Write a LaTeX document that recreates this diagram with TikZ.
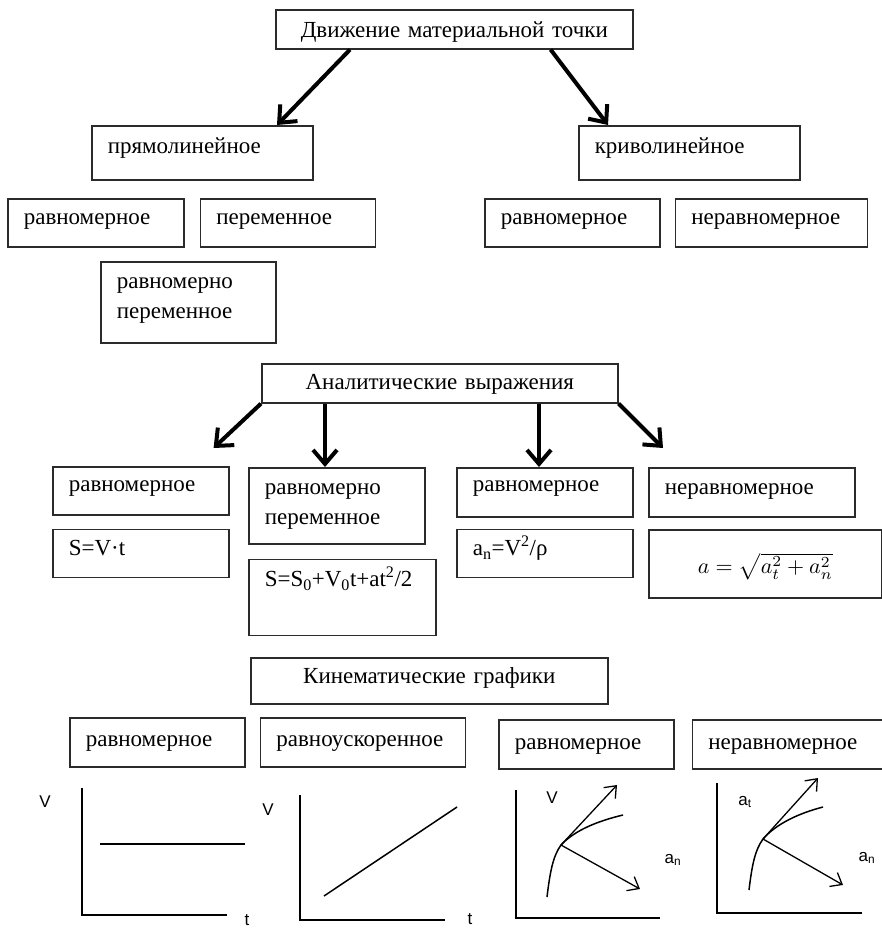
\documentclass[tikz,border=0pt]{standalone}
\usepackage{graphicx}
\usepackage{fontspec}
\setmainfont{Liberation Serif}
\newfontfamily\graphfont{Liberation Sans}
\usetikzlibrary{arrows.meta, positioning, calc}
\definecolor{boxline}{HTML}{2B2B2B}
\tikzset{
	box/.style={draw=boxline, line width=1.6pt, anchor=north west, align=left, inner xsep=16pt, inner ysep=0pt, text height=26pt, text depth=22pt, font=\fontsize{23}{30}\selectfont}, % frames with the text near the top
	headbox/.style={box, align=center}, % the three section titles
	bigarrow/.style={-{Straight Barb[length=14pt,width=24pt]}, line width=4pt}, % thick arrows under the titles
	axes/.style={line width=1.5pt}, % axes and lines of the graphs
	vec/.style={-{Straight Barb[length=10pt,width=16pt]}, line width=1.3pt}, % vectors on the curves
	axislabel/.style={font=\graphfont\fontsize{17}{20}\selectfont, inner sep=0pt},
}

\begin{document}
\begin{tikzpicture}[x=1pt, y=-1pt]
	\useasboundingbox (0,0) rectangle (882,928);
	
	% Движение материальной точки
	\node[headbox, text height=28pt, text depth=11pt, text width=325pt] (motion) at (275,9) {Движение материальной точки};
	\node[box, text height=28pt, text depth=26pt, text width=189pt] (pryam) at (91,125) {прямолинейное};
	\node[box, text height=28pt, text depth=26pt, text width=189pt] (kriv) at (578,125) {криволинейное};
	\node[box, text width=144pt] (ravnA) at (7,198) {равномерное};
	\node[box, text width=143pt, right=15pt of ravnA] (peremA) {переменное};
	\node[box, text height=27pt, text depth=54pt, text width=143pt] (ravnperA) at (100,261) {равномерно\\переменное};
	\node[box, text width=143pt] (ravnB) at (484,198) {равномерное};
	\node[box, text width=160pt, right=14pt of ravnB] (neravB) {неравномерное};
	
	\draw[bigarrow] ($(motion.south west)+(75,0)$) -- ($(pryam.north west)+(186,0)$);
	\draw[bigarrow] ($(motion.south east)+(-83,0)$) -- ($(kriv.north west)+(30,0)$);
	
	% Аналитические выражения
	\node[headbox, text height=26pt, text depth=13pt, text width=324pt] (analit) at (261,363) {Аналитические выражения};
	\node[box, text height=25pt, text depth=23pt, text width=144pt] (ravnC) at (52,466) {равномерное};
	\node[box, text width=144pt, below=13pt of ravnC] (formA) {S=V·t};
	\node[box, text height=27pt, text depth=49pt, text width=144pt] (ravnperC) at (248,467) {равномерно\\переменное};
	\node[box, text height=27pt, text depth=49pt, text width=155pt, below=14pt of ravnperC.south west, anchor=north west] (formB) {S=S\textsubscript{0}+V\textsubscript{0}t+at\textsuperscript{2}/2};
	\node[box, text height=24pt, text depth=25pt, text width=144pt] (ravnD) at (456,467) {равномерное};
	\node[box, text width=144pt, below=11pt of ravnD] (formC) {a\textsubscript{n}=V\textsuperscript{2}/ρ};
	\node[box, text height=27pt, text depth=22pt, text width=174pt] (neravD) at (648,467) {неравномерное};
	\node[headbox, text height=44pt, text depth=24pt, text width=201pt, font=\normalsize] (formD) at (648,529) {\scalebox{2.2}{$a = \sqrt{a_t^2 + a_n^2}$}};
	
	\draw[bigarrow] (analit.south west) -- ($(ravnC.north east)+(-16,-18)$);
	\draw[bigarrow] ($(analit.south west)+(64,0)$) -- ($(ravnperC.north west)+(77,0)$);
	\draw[bigarrow] ($(analit.south west)+(278,0)$) -- ($(ravnD.north west)+(83,0)$);
	\draw[bigarrow] (analit.south east) -- ($(neravD.north west)+(15,-19)$);
	
	% Кинематические графики
	\node[headbox, text height=26pt, text depth=20pt, text width=325pt] (kinem) at (250,657) {Кинематические графики};
	\node[box, text height=29pt, text depth=20pt, text width=143pt] (ravnE) at (69,717) {равномерное};
	\node[box, text height=29pt, text depth=20pt, text width=173pt, right=14pt of ravnE] (ravnusk) {равноускоренное};
	\node[box, text height=30pt, text depth=19pt, text width=143pt] (ravnF) at (498,719) {равномерное};
	\node[box, text height=30pt, text depth=19pt, text width=158pt, right=17pt of ravnF] (neravF) {неравномерное};
	
	% graphs
	\draw[axes] (82,788) |- (227,915);
	\draw[axes] (100,844) -- (245,844);
	\node[axislabel] (vA) at (45,802) {V};
	\node[axislabel, anchor=base] (tA) at (247,925) {t};
	
	\draw[axes] (300,795) |- (445,920);
	\draw[axes] (324,896) -- (457,807);
	\node[axislabel] (vB) at (268,810) {V};
	\node[axislabel, anchor=base] (tB) at (470,924) {t};
	
	\draw[axes] (516,790) |- (660,918);
	\draw[axes] (547,897) .. controls (550,872) and (553,856) .. (561,845) .. controls (575,830) and (598,821) .. (623,815);
	\coordinate (pC) at (561,845);
	\coordinate (tauC) at (617,785);
	\coordinate (normC) at (640,889);
	\draw[vec] (pC) -- (tauC);
	\draw[vec] (pC) -- (normC);
	\node[axislabel] (vC) at (552,798) {V};
	\node[axislabel] (anC) at (673,860) {a\textsubscript{n}};
	
	\draw[axes] (717,783) |- (862,913);
	\draw[axes] (749,890) .. controls (752,865) and (755,850) .. (763,839) .. controls (777,823) and (800,813) .. (823,807);
	\coordinate (pD) at (763,839);
	\coordinate (tauD) at (818,778);
	\coordinate (normD) at (843,885);
	\draw[vec] (pD) -- (tauD);
	\draw[vec] (pD) -- (normD);
	\node[axislabel] (atD) at (745,802) {a\textsubscript{t}};
	\node[axislabel] (anD) at (867,858) {a\textsubscript{n}};
	
\end{tikzpicture}
\end{document}
